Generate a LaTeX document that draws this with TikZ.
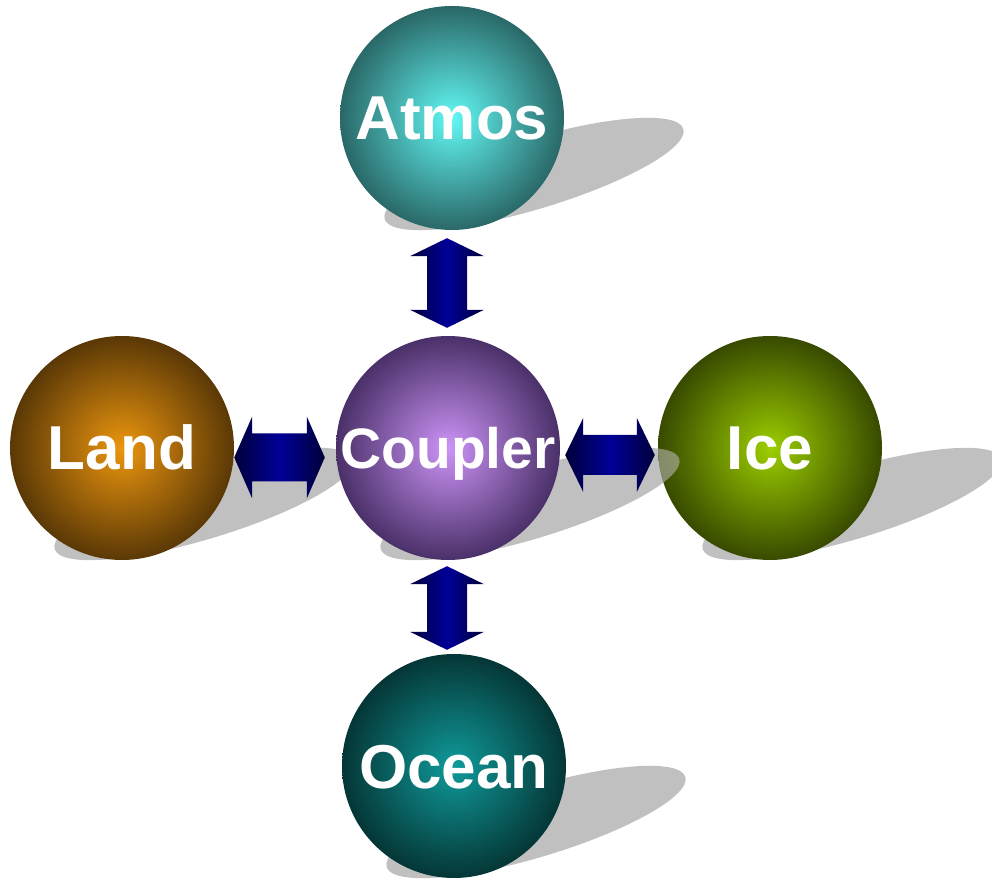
\documentclass[tikz,border=0pt]{standalone}
\usepackage{fontspec}
\setmainfont{Liberation Sans}
\usetikzlibrary{calc}
\definecolor{shadowc}{HTML}{C0C0C0}
\definecolor{arrD}{HTML}{00003A}
\definecolor{arrM}{HTML}{000098}
\definecolor{atmI}{HTML}{62F8F4}
\definecolor{atmO}{HTML}{2A6868}
\definecolor{lndI}{HTML}{EC960E}
\definecolor{lndO}{HTML}{5A3806}
\definecolor{cplI}{HTML}{CC94F8}
\definecolor{cplO}{HTML}{4A3068}
\definecolor{iceI}{HTML}{9CCE00}
\definecolor{iceO}{HTML}{384A00}
\definecolor{ocnI}{HTML}{109A9A}
\definecolor{ocnO}{HTML}{053636}
\tikzset{
  ball/.style={circle, minimum size=224pt, inner sep=0pt, text=white,
    font=\bfseries\fontsize{62}{62}\selectfont, text depth=0pt, text height=44pt},
  shadowfill/.style={fill=shadowc},
  arrowfill/.style={left color=arrD, right color=arrD, middle color=arrM}
}
\newcommand{\ballshadow}[2][]{%
  \begin{scope}[shift={($(#2)+(82,-56)$)}, rotate=16.8]
    \fill[shadowfill,#1] (0,0) ellipse [x radius=156, y radius=35];
  \end{scope}}
\newcommand{\vdblarrow}[2]{% top, bottom
  \shade[arrowfill] (#1) -- ($(#1)+(37,-18)$) -- ($(#1)+(20,-18)$) -- ($(#2)+(20,18)$)
    -- ($(#2)+(37,18)$) -- (#2) -- ($(#2)+(-37,18)$) -- ($(#2)+(-20,18)$)
    -- ($(#1)+(-20,-18)$) -- ($(#1)+(-37,-18)$) -- cycle;}
\newcommand{\hdblarrow}[4]{% left, right, half head, half shaft
  \shade[arrowfill] (#1) -- ($(#1)+(18,#3)$) -- ($(#1)+(18,#4)$) -- ($(#2)+(-18,#4)$)
    -- ($(#2)+(-18,#3)$) -- (#2) -- ($(#2)+(-18,-#3)$) -- ($(#2)+(-18,-#4)$)
    -- ($(#1)+(18,-#4)$) -- ($(#1)+(18,-#3)$) -- cycle;}
\begin{document}
\begin{tikzpicture}[x=1pt,y=1pt]
\useasboundingbox (0,0) rectangle (992,880);
\clip (0,0) rectangle (992,880);
\coordinate (cA) at (452,762);
\coordinate (cL) at (122,432);
\coordinate (cC) at (448,432);
\coordinate (cI) at (770,432);
\coordinate (cO) at (454,114);
% shadows
\ballshadow{cA}
\ballshadow{cL}
\ballshadow{cC}
\ballshadow{cI}
\ballshadow{cO}
% spheres
\node[ball, inner color=atmI, outer color=atmO] (atmos) at (cA) {Atmos};
\node[ball, inner color=lndI, outer color=lndO] (land) at (cL) {Land};
\node[ball, inner color=iceI, outer color=iceO] (ice) at (cI) {Ice};
\node[ball, inner color=ocnI, outer color=ocnO] (ocean) at (cO) {Ocean};
% coupler shadow showing faintly over the edge of Ice
\begin{scope}
  \clip (ice.center) circle [radius=112];
  \ballshadow[opacity=0.55]{cC}
\end{scope}
\node[ball, inner color=cplI, outer color=cplO, font=\bfseries\fontsize{57}{57}\selectfont, text height=41pt] (coupler) at (cC) {Coupler};
% connectors
\coordinate (ac1) at ($(atmos.south)+(-5,-8)$);
\coordinate (ac2) at ($(coupler.north)+(-1,8)$);
\vdblarrow{ac1}{ac2}
\coordinate (co1) at ($(coupler.south)+(-1,-6)$);
\coordinate (co2) at ($(ocean.north)+(-7,4)$);
\vdblarrow{co1}{co2}
\coordinate (lc1) at ($(land.east)+(0,-9.5)$);
\coordinate (lc2) at ($(coupler.west)+(-11,-9.5)$);
\hdblarrow{lc1}{lc2}{41}{24}
\coordinate (ci1) at ($(coupler.east)+(5,-7)$);
\coordinate (ci2) at ($(ice.west)+(-3,-7)$);
\hdblarrow{ci1}{ci2}{37}{20}
\end{tikzpicture}
\end{document}
